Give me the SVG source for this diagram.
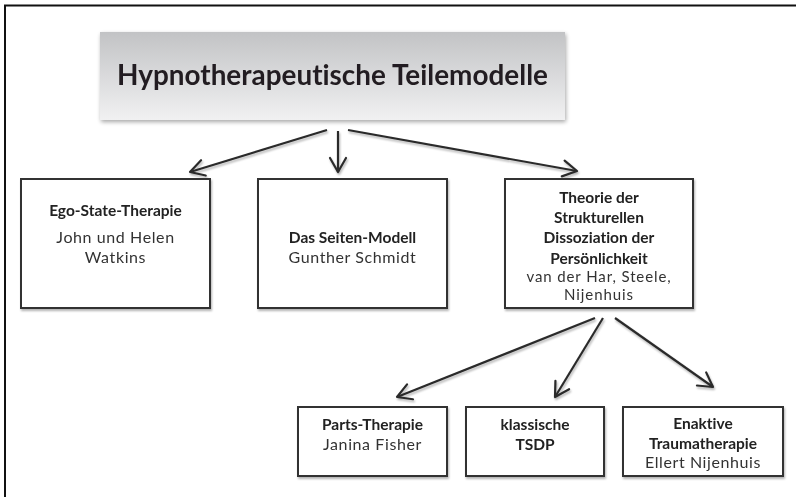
<svg xmlns="http://www.w3.org/2000/svg" width="796" height="497" viewBox="0 0 796 497">
<defs>
<linearGradient id="tg" x1="0" y1="0" x2="0" y2="1">
<stop offset="0" stop-color="#c2c3c5"/>
<stop offset="1" stop-color="#f1f1f2"/>
</linearGradient>
<filter id="sh" x="-10%" y="-10%" width="130%" height="140%">
<feGaussianBlur in="SourceAlpha" stdDeviation="2"/>
<feOffset dx="1" dy="2" result="b"/>
<feComponentTransfer><feFuncA type="linear" slope="0.35"/></feComponentTransfer>
<feMerge><feMergeNode/><feMergeNode in="SourceGraphic"/></feMerge>
</filter>
<filter id="lsh" x="-20%" y="-20%" width="140%" height="140%">
<feGaussianBlur in="SourceAlpha" stdDeviation="1.2"/>
<feOffset dx="1" dy="1.5"/>
<feComponentTransfer><feFuncA type="linear" slope="0.3"/></feComponentTransfer>
<feMerge><feMergeNode/><feMergeNode in="SourceGraphic"/></feMerge>
</filter>
<marker id="ah" viewBox="0 0 20 20" refX="18" refY="10" markerWidth="20" markerHeight="20" markerUnits="userSpaceOnUse" orient="auto">
<path d="M4,2 L18,10 L4,18" fill="none" stroke="#2b2b2b" stroke-width="2.2" stroke-linecap="round" stroke-linejoin="round"/>
</marker>
</defs>
<style>
text{font-variant-ligatures:none}
.box{fill:#fff;stroke:#333;stroke-width:2}
.b{font-family:Lato,"Open Sans","Liberation Sans",sans-serif;font-weight:bold;font-size:15.5px;fill:#222;text-anchor:middle}
.r{font-family:Lato,"Open Sans","Liberation Sans",sans-serif;font-size:16px;letter-spacing:0.6px;fill:#333;text-anchor:middle}
.rs{font-family:Lato,"Open Sans","Liberation Sans",sans-serif;font-size:15px;letter-spacing:0.9px;fill:#333;text-anchor:middle}
.ln{fill:none;stroke:#2b2b2b;stroke-width:2.2;marker-end:url(#ah)}
</style>
<rect x="0" y="0" width="796" height="497" fill="#fff"/>
<path d="M5,497 L5,5.5 L796,5.5" fill="none" stroke="#111" stroke-width="2"/>

<g id="title" filter="url(#sh)">
<rect x="100" y="32" width="465" height="88" fill="url(#tg)"/>
<text x="332.5" y="85" font-family="Lato,'Open Sans','Liberation Sans',sans-serif" font-weight="bold" font-size="28" fill="#231f20" text-anchor="middle" textLength="431" lengthAdjust="spacingAndGlyphs">Hypnotherapeutische Teilemodelle</text>
</g>

<g id="connectors" filter="url(#lsh)">
<line class="ln" x1="327" y1="130" x2="190" y2="172"/>
<line class="ln" x1="338" y1="131" x2="338" y2="172"/>
<line class="ln" x1="348" y1="130" x2="577" y2="171"/>
<line class="ln" x1="595" y1="318" x2="397" y2="397"/>
<line class="ln" x1="603" y1="318" x2="555" y2="397"/>
<line class="ln" x1="615" y1="318" x2="713" y2="387"/>
</g>

<g id="ego-state" filter="url(#lsh)">
<rect class="box" x="21" y="179" width="189" height="129"/>
<text class="b" x="115.5" y="216">Ego-State-Therapie</text>
<text class="r" x="115.5" y="243">John und Helen</text>
<text class="r" x="115.5" y="263">Watkins</text>
</g>

<g id="seiten-modell" filter="url(#lsh)">
<rect class="box" x="258" y="179" width="189" height="129"/>
<text class="b" x="352.5" y="243">Das Seiten-Modell</text>
<text class="r" x="352.5" y="263">Gunther Schmidt</text>
</g>

<g id="tsdp-theorie" filter="url(#lsh)">
<rect class="box" x="505" y="179" width="188" height="129"/>
<text class="b" x="599" y="203">Theorie der</text>
<text class="b" x="599" y="223">Strukturellen</text>
<text class="b" x="599" y="243">Dissoziation der</text>
<text class="b" x="599" y="264">Persönlichkeit</text>
<text class="rs" x="599" y="282">van der Har, Steele,</text>
<text class="rs" x="599" y="300">Nijenhuis</text>
</g>

<g id="parts-therapie" filter="url(#lsh)">
<rect class="box" x="298" y="407" width="149" height="69"/>
<text class="b" x="372.5" y="430">Parts-Therapie</text>
<text class="r" x="372.5" y="450">Janina Fisher</text>
</g>

<g id="klassische-tsdp" filter="url(#lsh)">
<rect class="box" x="466" y="407" width="138" height="69"/>
<text class="b" x="535" y="430">klassische</text>
<text class="b" x="535" y="450">TSDP</text>
</g>

<g id="enaktive" filter="url(#lsh)">
<rect class="box" x="623" y="407" width="160" height="69"/>
<text class="b" x="703" y="429">Enaktive</text>
<text class="b" x="703" y="449">Traumatherapie</text>
<text class="r" x="703" y="468">Ellert Nijenhuis</text>
</g>
</svg>
